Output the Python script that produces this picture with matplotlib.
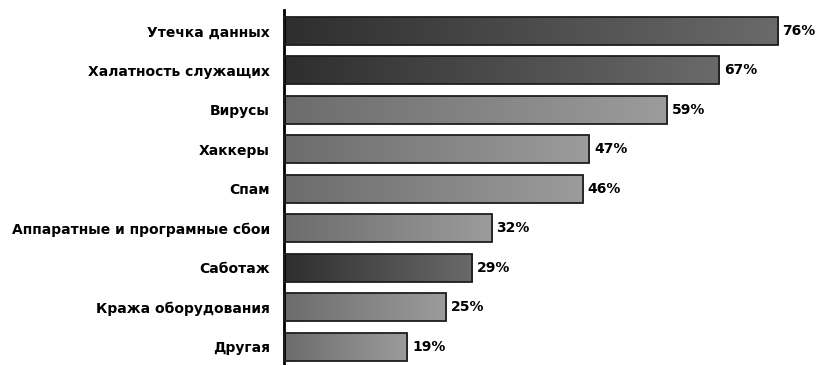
import matplotlib.pyplot as plt
import numpy as np
from matplotlib.colors import LinearSegmentedColormap

# Threat categories and share of respondents (%)
categories = ["Утечка данных", "Халатность служащих", "Вирусы", "Хаккеры", "Спам",
              "Аппаратные и програмные сбои", "Саботаж", "Кража оборудования", "Другая"]
values = [76, 67, 59, 47, 46, 32, 29, 25, 19]
dark = [True, True, False, False, False, False, True, False, False]

dark_cmap = LinearSegmentedColormap.from_list("dark", ["#2e2e2e", "#6a6a6a"])
light_cmap = LinearSegmentedColormap.from_list("light", ["#6c6c6c", "#9c9c9c"])

fig = plt.figure(figsize=(8.17, 3.65), dpi=100)
ax = fig.add_axes([0.3476, 0.0, 0.6524, 0.973])

y = np.arange(len(categories))
height = 0.7
bars = ax.barh(y, values, height=height, facecolor="none", edgecolor="#1e1e1e",
               linewidth=1.3, zorder=3)

grad = np.linspace(0, 1, 256).reshape(1, -1)
for bar, is_dark, v in zip(bars, dark, values):
    x0, y0 = bar.get_x(), bar.get_y()
    w, h = bar.get_width(), bar.get_height()
    ax.imshow(grad, cmap=dark_cmap if is_dark else light_cmap, aspect="auto",
              extent=(x0, x0 + w, y0 + h, y0), zorder=2, interpolation="bilinear")
    ax.text(v + 0.7, y0 + h / 2, f"{v}%", va="center", ha="left",
            fontsize=10, fontweight="heavy", color="black")

ax.set_xlim(0, 82)
ax.set_ylim(8.46, -0.53)
ax.set_yticks(y)
ax.set_yticklabels(categories, fontsize=10, fontweight="heavy")
ax.tick_params(axis="y", length=0, pad=10)
ax.set_xticks([])
for side in ["top", "right", "bottom"]:
    ax.spines[side].set_visible(False)
ax.spines["left"].set_linewidth(2)
ax.spines["left"].set_color("black")

fig.savefig("out.png", dpi=100)
